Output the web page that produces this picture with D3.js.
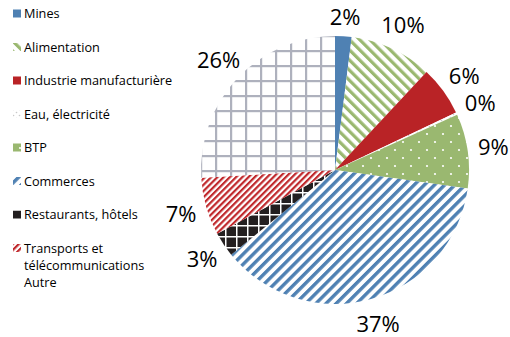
<!DOCTYPE html>
<html><head><meta charset="utf-8">
<script src="https://cdn.jsdelivr.net/npm/d3@7"></script>
<style>
html,body{margin:0;padding:0;background:#fff;}
svg{display:block;}
</style></head>
<body>
<svg id="chart" width="510" height="337"></svg>
<script>
// Data
const categories = ["Mines","Alimentation","Industrie manufacturière","Eau, électricité","BTP","Commerces","Restaurants, hôtels","Transports et télécommunications","Autre"];
const values = [2, 10, 6, 0.3, 9, 37, 3, 7, 26];
const legendLines = [["Mines"],["Alimentation"],["Industrie manufacturière"],["Eau, électricité"],["BTP"],["Commerces"],["Restaurants, hôtels"],["Transports et","télécommunications","Autre"]];
const fills = ["solid-blue","stripe-green","solid-red","dots-eau","dots-green","stripe-blue","grid-black","stripe-red","grid-gray"];

const svg = d3.select("#chart");
const defs = svg.append("defs");

function stripe(id, color, period, width, angle){
  const p = defs.append("pattern").attr("id", id).attr("patternUnits","userSpaceOnUse")
    .attr("width", period).attr("height", period).attr("patternTransform", `rotate(${angle})`);
  p.append("rect").attr("width", period).attr("height", period).attr("fill","#fff");
  p.append("rect").attr("x",0).attr("y",0).attr("width", width).attr("height", period).attr("fill", color);
}
stripe("stripe-blue", "#4f81b3", 7.2, 3.4, 45);
stripe("stripe-green", "#9ab870", 7.2, 3.2, -45);
stripe("stripe-red", "#c0282c", 4.4, 2.2, 45);

function grid(id, bg, line, period, lw){
  const p = defs.append("pattern").attr("id", id).attr("patternUnits","userSpaceOnUse")
    .attr("width", period).attr("height", period);
  p.append("rect").attr("width", period).attr("height", period).attr("fill", bg);
  p.append("rect").attr("x",0).attr("y",0).attr("width", lw).attr("height", period).attr("fill", line);
  p.append("rect").attr("x",0).attr("y",0).attr("width", period).attr("height", lw).attr("fill", line);
}
grid("grid-black", "#231f20", "#ffffff", 11, 1.5);
grid("grid-gray", "#ffffff", "#aeb1bd", 15, 2.2);

function dots(id, bg, dot, period, r){
  const p = defs.append("pattern").attr("id", id).attr("patternUnits","userSpaceOnUse")
    .attr("width", period).attr("height", period);
  p.append("rect").attr("width", period).attr("height", period).attr("fill", bg);
  p.append("circle").attr("cx", period/4).attr("cy", period/4).attr("r", r).attr("fill", dot);
  p.append("circle").attr("cx", 3*period/4).attr("cy", 3*period/4).attr("r", r).attr("fill", dot);
}
dots("dots-green", "#9ab870", "#ffffff", 16, 1.1);
dots("dots-eau", "#ffffff", "#c8c8c8", 6, 0.8);

const solid = {"solid-blue":"#4f81b3","solid-red":"#b92326"};
const fillOf = k => solid[k] || `url(#${k})`;

// Pie
const cx = 335, cy = 170, R = 134;
const pie = d3.pie().sort(null).value(d => d)(values);
const arc = d3.arc().innerRadius(0).outerRadius(R);
const labelArc = d3.arc().innerRadius(160).outerRadius(160);

const g = svg.append("g").attr("transform", `translate(${cx},${cy})`);
g.selectAll("path.slice").data(pie).join("path").attr("class","slice")
  .attr("d", arc).attr("fill", (d,i) => fillOf(fills[i]));

g.selectAll("text.lbl").data(pie).join("text").attr("class","lbl")
  .attr("transform", d => {
    const [x, y] = labelArc.centroid(d);
    return `translate(${x},${Math.max(y, 17 - cy)})`;
  })
  .attr("text-anchor","middle").attr("dy","0.36em")
  .attr("font-family","'Open Sans', sans-serif").attr("font-size", 22).attr("fill","#000")
  .text(d => Math.round(d.data) + "%");

// Legend
const legend = svg.append("g").attr("font-family","'Open Sans', sans-serif").attr("font-size", 12.7).attr("fill","#000");
const ly = d3.scaleLinear().domain([0, 1]).range([14, 47.5]);
legendLines.forEach((lines, i) => {
  const y = ly(i);
  legend.append("rect").attr("x", 13).attr("y", y - 4.5).attr("width", 8).attr("height", 8)
    .attr("fill", fillOf(fills[i]));
  const t = legend.append("text").attr("x", 24).attr("y", y).attr("dy","0.35em");
  lines.forEach((s, j) => {
    t.append("tspan").attr("x", 24).attr("dy", j === 0 ? "0.35em" : 17).text(s);
  });
});
</script>
</body></html>
